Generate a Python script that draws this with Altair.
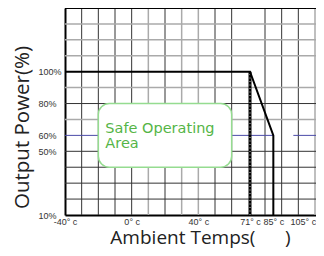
import altair as alt
import pandas as pd

# ---- data ----
curve_temp = [-40, 71, 85, 85]
curve_power = [100, 100, 60, 10]

x_tick_values = [-40, 0, 40, 71, 85, 105]
y_tick_values = [10, 50, 60, 80, 100]

vgrid_dark = [-30, -20, -10, 0, 20, 50, 60, 80, 90, 100]
vgrid_light = [10, 30, 40, 110]
hgrid_dark = [20, 30, 40, 50, 80]
hgrid_light = [70, 90, 110, 120, 130]

blue_start = [-40, 97]
blue_end = [85, 116]
blue_level = [60, 60]

cutoff_temp = [71]
cutoff_low = [10]
cutoff_high = [100]

box_x = [-20]
box_x2 = [60]
box_y = [80]
box_y2 = [40]

label_lines = ["Safe Operating", "Area"]
top_level = [140]

x_title = "Ambient Temps(\u00a0\u00a0\u00a0\u00a0\u00a0\u00a0)"
y_title = "Output Power(%)"

XDOM = [-40, 110.6]
YDOM = [10, 140]

xs = alt.Scale(domain=XDOM, nice=False, zero=False)
ys = alt.Scale(domain=YDOM, nice=False, zero=False)

curve_df = pd.DataFrame({"t": curve_temp, "p": curve_power, "o": list(range(len(curve_temp)))})

x_axis = alt.Axis(
    values=x_tick_values,
    labelExpr="datum.value + '° c'",
    grid=False, ticks=False, tickSize=0,
    domainColor="black", domainWidth=2,
    labelFont="Liberation Sans", labelFontSize=9, labelColor="#333333",
    labelPadding=2, labelFlush=False, labelOverlap=False,
    labelAlign={"expr": "datum.value > 100 ? 'right' : 'center'"},
    labelOffset={"expr": "datum.value > 100 ? 9 : 0"},
    title=x_title,
    titleFont="Open Sans", titleFontSize=19, titleFontWeight="normal", titleColor="#222222",
    titleX=135, titleY=28, titleBaseline="alphabetic", titleAnchor="middle",
)
y_axis = alt.Axis(
    values=y_tick_values,
    labelExpr="datum.value + '%'",
    grid=False, ticks=False, tickSize=0,
    domainColor="black", domainWidth=2,
    labelFont="Liberation Sans", labelFontSize=9, labelColor="#333333",
    labelAlign="left", labelPadding=27, labelFlush=False, labelOverlap=False,
    title=y_title,
    titleFont="Open Sans", titleFontSize=20.5, titleFontWeight="normal", titleColor="#222222",
    titleAngle=-90, titleX=-37, titleY=119, titleBaseline="alphabetic", titleAlign="center",
)

base_df = pd.DataFrame({"t": curve_temp, "p": curve_power})
axes_layer = alt.Chart(base_df).mark_point(opacity=0).encode(
    x=alt.X("t:Q", scale=xs, axis=x_axis),
    y=alt.Y("p:Q", scale=ys, axis=y_axis),
)

def vrules(vals, color, width):
    return alt.Chart(pd.DataFrame({"v": vals})).mark_rule(color=color, strokeWidth=width).encode(
        x=alt.X("v:Q", scale=xs)
    )

def hrules(vals, color, width):
    return alt.Chart(pd.DataFrame({"v": vals})).mark_rule(color=color, strokeWidth=width).encode(
        y=alt.Y("v:Q", scale=ys)
    )

g1 = vrules(vgrid_light, "#aaaaaa", 1.5)
g2 = vrules(vgrid_dark, "#333333", 1)
g3 = hrules(hgrid_light, "#aaaaaa", 1.5)
g4 = hrules(hgrid_dark, "#333333", 1)

blue = alt.Chart(pd.DataFrame({"a": blue_start, "b": blue_end, "y": blue_level})).mark_rule(
    color="#4a4aa8", strokeWidth=1, clip=True
).encode(x=alt.X("a:Q", scale=xs), x2="b:Q", y=alt.Y("y:Q", scale=ys))

box = alt.Chart(pd.DataFrame({"x": box_x, "x2": box_x2, "y": box_y, "y2": box_y2})).mark_rect(
    fill="white", stroke="#95dc90", strokeWidth=1.5, cornerRadius=11
).encode(x=alt.X("x:Q", scale=xs), x2="x2:Q", y=alt.Y("y:Q", scale=ys), y2="y2:Q")

txt1 = alt.Chart(pd.DataFrame({"x": box_x, "y": box_y, "s": [label_lines[0]]})).mark_text(
    align="left", baseline="middle", dx=7, dy=25, fontSize=14.5, fontWeight="normal",
    font="DejaVu Sans", color="#55b547"
).encode(x=alt.X("x:Q", scale=xs), y=alt.Y("y:Q", scale=ys), text="s:N")

txt2 = alt.Chart(pd.DataFrame({"x": box_x, "y": box_y, "s": [label_lines[1]]})).mark_text(
    align="left", baseline="middle", dx=7, dy=40, fontSize=14.5, fontWeight="normal",
    font="DejaVu Sans", color="#55b547"
).encode(x=alt.X("x:Q", scale=xs), y=alt.Y("y:Q", scale=ys), text="s:N")

cut_df = pd.DataFrame({"x": cutoff_temp, "lo": cutoff_low, "hi": cutoff_high})
cut_black = alt.Chart(cut_df).mark_rule(color="black", strokeWidth=3).encode(
    x=alt.X("x:Q", scale=xs), y=alt.Y("lo:Q", scale=ys), y2="hi:Q"
)
cut_dots = alt.Chart(cut_df).mark_rule(color="white", strokeWidth=0.8, strokeDash=[1, 2.5]).encode(
    x=alt.X("x:Q", scale=xs), y=alt.Y("lo:Q", scale=ys), y2="hi:Q"
)

curve = alt.Chart(curve_df).mark_line(color="black", strokeWidth=2).encode(
    x=alt.X("t:Q", scale=xs), y=alt.Y("p:Q", scale=ys), order="o:Q"
)

top = hrules(top_level, "black", 2)

chart = alt.layer(
    axes_layer, g1, g2, g3, g4, blue, box, txt1, txt2, cut_black, cut_dots, curve, top
).properties(
    width=251, height=207,
    autosize=alt.AutoSizeParams(type="none"),
    padding={"left": 57, "top": 0, "right": 0, "bottom": 33},
).configure_view(stroke=None).configure(background="white")

chart.save("out.html", embed_options={"renderer": "svg", "actions": False})
